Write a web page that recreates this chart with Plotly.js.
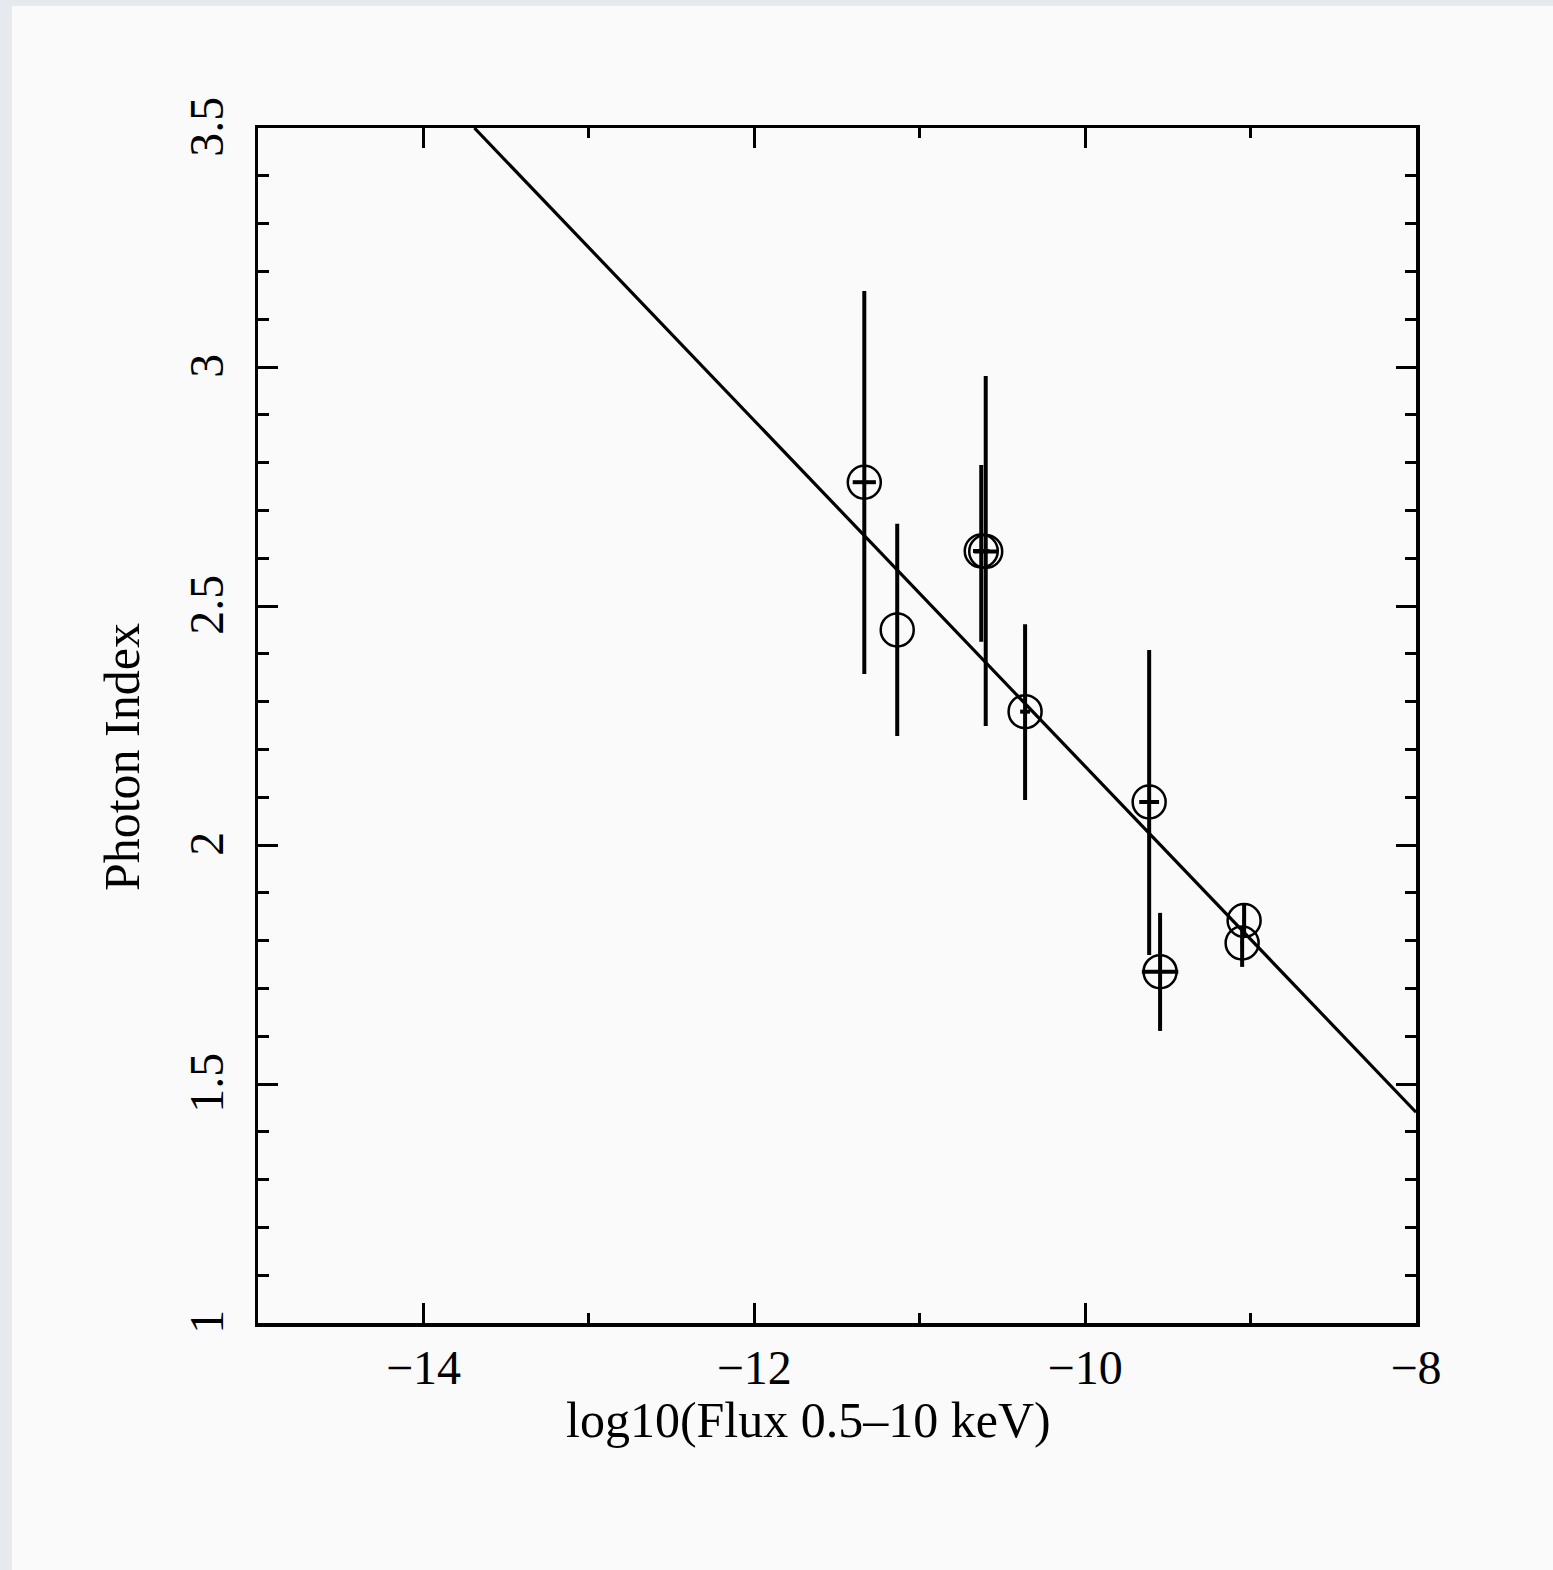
<!DOCTYPE html>
<html>
<head>
<meta charset="utf-8">
<script src="https://cdn.plot.ly/plotly-3.0.1.min.js"></script>
<style>
  html, body { margin: 0; padding: 0; background: #e6e9ed; width: 1553px; height: 1570px; overflow: hidden; }
  #chart { position: absolute; left: 12px; top: 6px; width: 1541px; height: 1564px; background: #fafafa; }
</style>
</head>
<body>
<div id="chart"></div>
<script>
// log10(Flux 0.5-10 keV)
const flux        = [-11.335, -11.136, -10.628, -10.601, -10.363, -9.613, -9.547, -9.039, -9.051];
// Photon index
const photonIndex = [2.759, 2.450, 2.615, 2.614, 2.279, 2.090, 1.735, 1.842, 1.795];
const errUp       = [0.400, 0.222, 0.180, 0.367, 0.183, 0.318, 0.123, 0.035, 0.035];
const errDown     = [0.401, 0.222, 0.190, 0.365, 0.185, 0.320, 0.124, 0.035, 0.050];
const errX        = [0.07, 0.0, 0.05, 0.07, 0.03, 0.06, 0.11, 0.01, 0.01];

// Linear fit line
const fitX = [-13.692, -8.0];
const fitY = [3.5, 1.441];

const xTitle = 'log10(Flux 0.5–10 keV)';
const yTitle = 'Photon Index';

const serif = '"Liberation Serif", "Times New Roman", serif';

const traces = [
  {
    x: fitX, y: fitY, type: 'scatter', mode: 'lines',
    line: { color: '#000', width: 3.2 }, hoverinfo: 'skip', showlegend: false
  },
  {
    x: flux, y: photonIndex, type: 'scatter', mode: 'markers',
    marker: { symbol: 'circle-open', size: 33, color: '#000', line: { color: '#000', width: 2.5 } },
    error_y: { type: 'data', symmetric: false, array: errUp, arrayminus: errDown, color: '#000', thickness: 4, width: 0 },
    error_x: { type: 'data', array: errX, color: '#000', thickness: 4, width: 0 },
    showlegend: false
  }
];

const layout = {
  width: 1541, height: 1564,
  margin: { l: 246, r: 137, t: 122, b: 247 },
  paper_bgcolor: '#fafafa',
  plot_bgcolor: '#fafafa',
  showlegend: false,
  font: { family: serif, color: '#000' },
  xaxis: {
    range: [-15, -8],
    tickmode: 'linear', tick0: -14, dtick: 2,
    ticks: 'inside', ticklen: 20, tickwidth: 3, tickcolor: '#000',
    minor: { dtick: 1, ticks: 'inside', ticklen: 10, tickwidth: 3, tickcolor: '#000' },
    showline: true, linewidth: 3.5, linecolor: '#000', mirror: 'ticks',
    showgrid: false, zeroline: false,
    tickfont: { family: serif, size: 48, color: '#000' },
    ticklabelstandoff: 0
  },
  yaxis: {
    range: [1, 3.5],
    tickmode: 'linear', tick0: 1, dtick: 0.5,
    ticks: 'inside', ticklen: 20, tickwidth: 3, tickcolor: '#000',
    minor: { dtick: 0.1, ticks: 'inside', ticklen: 11, tickwidth: 3, tickcolor: '#000' },
    showline: true, linewidth: 3.5, linecolor: '#000', mirror: 'ticks',
    showgrid: false, zeroline: false,
    tickangle: -90,
    tickfont: { family: serif, size: 48, color: '#000' },
    ticklabelstandoff: 12,
    ticklabelshift: 6
  },
  annotations: [
    { text: xTitle, xref: 'paper', yref: 'paper', x: 0.475, y: -0.0812,
      xanchor: 'center', yanchor: 'middle', showarrow: false,
      font: { family: serif, size: 50, color: '#000' } },
    { text: yTitle, xref: 'paper', yref: 'paper', x: -0.1174, y: 0.4736,
      xanchor: 'center', yanchor: 'middle', showarrow: false, textangle: -90,
      font: { family: serif, size: 50, color: '#000' } }
  ]
};

Plotly.newPlot('chart', traces, layout, { displayModeBar: false, staticPlot: true });
</script>
</body>
</html>
